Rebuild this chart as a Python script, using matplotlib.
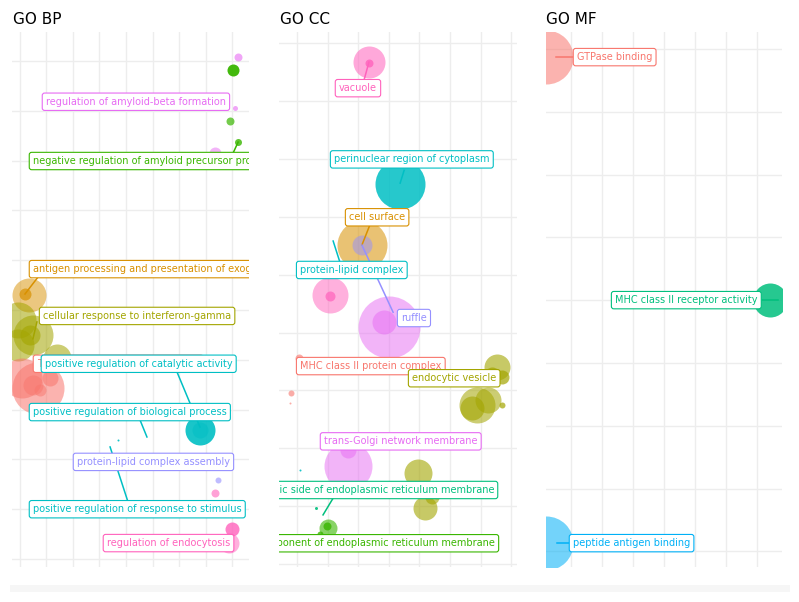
import matplotlib.pyplot as plt
from matplotlib.patches import Rectangle

# ggplot hue palette (10 groups)
SALMON = '#F8766D'
ORANGE = '#D89000'
OLIVE = '#A3A500'
GREEN = '#39B600'
TEAL = '#00BF7D'
CYAN = '#00BFC4'
BLUE = '#00B0F6'
LAVENDER = '#9590FF'
MAGENTA = '#E76BF3'
PINK = '#FF62BC'

# ---- GO BP ----
bp_x = [8.23, 8.04, 8.11, 7.92, 8.23, 7.36, 0.34, 0.19, -0.08, 0.49, -0.08, 1.40, 0.38,
        0.68, 0.08, 1.13, 0.49, 0.75, 6.79, 6.79, 3.70, 7.47, 7.36, 7.89, 8.00]
bp_y = [10.08, 9.82, 9.06, 8.80, 8.37, 8.15, 5.30, 5.32, 4.80, 4.50, 4.30, 4.04, 4.50,
        3.43, 3.63, 3.63, 3.49, 3.39, 2.59, 2.59, 2.39, 1.59, 1.33, 0.32, 0.60]
bp_r = [4, 6, 2.5, 4, 3.5, 6, 17, 6, 18, 20, 16, 14, 10,
        26, 20, 8, 10, 6, 15, 8, 1, 3, 4, 10, 7]
bp_c = [MAGENTA, GREEN, MAGENTA, GREEN, GREEN, MAGENTA, ORANGE, ORANGE, OLIVE, OLIVE, OLIVE, OLIVE, OLIVE,
        SALMON, SALMON, SALMON, SALMON, SALMON, CYAN, CYAN, CYAN, LAVENDER, PINK, PINK, PINK]
bp_a = [0.6, 0.95, 0.6, 0.7, 0.8, 0.5, 0.5, 0.7, 0.55, 0.55, 0.55, 0.55, 0.6,
        0.55, 0.55, 0.55, 0.5, 0.5, 0.9, 0.5, 0.9, 0.6, 0.6, 0.5, 0.8]

bp_labels = ['regulation of amyloid-beta formation',
             'negative regulation of amyloid precursor protein catabolic process',
             'antigen processing and presentation of exogenous peptide antigen via MHC class II',
             'cellular response to interferon-gamma',
             'T cell receptor signaling pathway',
             'positive regulation of catalytic activity',
             'positive regulation of biological process',
             'protein-lipid complex assembly',
             'positive regulation of response to stimulus',
             'regulation of endocytosis']
bp_lx = [0.98, 0.49, 0.49, 0.87, 0.64, 0.94, 0.49, 2.15, 0.49, 3.28]
bp_ly = [9.18, 7.99, 5.82, 4.88, 3.92, 3.92, 2.95, 1.95, 1.00, 0.32]
bp_lc = [MAGENTA, GREEN, ORANGE, OLIVE, SALMON, CYAN, CYAN, LAVENDER, CYAN, PINK]
bp_seg = [(8.23, 8.37, 8.04, 8.15, GREEN), (0.68, 5.66, 0.19, 5.32, ORANGE),
          (0.64, 4.76, 0.49, 4.42, OLIVE), (5.92, 3.76, 6.79, 2.65, CYAN),
          (4.53, 2.79, 4.79, 2.45, CYAN), (3.40, 2.25, 4.08, 1.14, CYAN)]

# ---- GO CC ----
cc_x = [2.35, 2.35, 3.37, 2.12, 2.12, 1.08, 1.08, 3.01, 2.84, 0.07, -0.20, -0.23,
        6.54, 6.70, 6.37, 5.88, 5.72, 6.24, 6.70, 3.95, 4.58, 4.18, 4.41,
        1.67, 1.67, 0.10, 0.62, 1.01, 0.98, 0.75]
cc_y = [8.67, 8.65, 6.56, 5.51, 5.51, 4.65, 4.63, 4.09, 4.18, 3.56, 2.95, 2.78,
        3.40, 3.23, 3.26, 2.75, 2.69, 2.83, 2.75, 1.57, 1.23, 0.97, 1.16,
        1.69, 1.97, 1.62, 0.97, 0.62, 0.66, 0.52]
cc_r = [16, 4, 25, 25, 10, 18, 5, 31, 12, 4, 3, 1,
        13, 7, 8, 18, 12, 13, 3, 14, 6, 12, 7,
        24, 8, 1, 1.5, 9, 4, 3]
cc_c = [PINK, PINK, CYAN, ORANGE, LAVENDER, PINK, PINK, MAGENTA, MAGENTA, SALMON, SALMON, SALMON,
        OLIVE, OLIVE, OLIVE, OLIVE, OLIVE, OLIVE, OLIVE, OLIVE, OLIVE, OLIVE, OLIVE,
        MAGENTA, MAGENTA, CYAN, TEAL, GREEN, GREEN, GREEN]
cc_a = [0.55, 0.8, 0.85, 0.55, 0.5, 0.5, 0.7, 0.5, 0.5, 0.6, 0.6, 0.6,
        0.6, 0.7, 0.7, 0.55, 0.6, 0.55, 0.7, 0.6, 0.6, 0.6, 0.6,
        0.5, 0.5, 0.9, 0.9, 0.6, 0.8, 0.8]

cc_labels = ['vacuole', 'perinuclear region of cytoplasm', 'cell surface',
             'protein-lipid complex', 'ruffle', 'MHC class II protein complex',
             'endocytic vesicle', 'trans-Golgi network membrane',
             'cytoplasmic side of endoplasmic reticulum membrane',
             'integral component of endoplasmic reticulum membrane']
cc_lx = [1.37, 1.21, 1.70, 0.10, 3.40, 0.10, 3.76, 0.88, 6.44, 6.47]
cc_ly = [8.22, 6.99, 5.99, 5.08, 4.25, 3.42, 3.21, 2.12, 1.28, 0.36]
cc_ha = ['left'] * 8 + ['right', 'right']
cc_lc = [PINK, CYAN, ORANGE, CYAN, LAVENDER, SALMON, OLIVE, MAGENTA, TEAL, GREEN]
cc_seg = [(2.35, 8.67, 2.19, 8.36, PINK), (3.50, 6.80, 3.37, 6.58, CYAN),
          (2.39, 5.87, 2.12, 5.51, ORANGE), (1.18, 5.58, 1.41, 5.20, CYAN),
          (2.12, 5.51, 3.14, 4.35, LAVENDER), (1.18, 1.14, 0.85, 0.85, TEAL)]

# ---- GO MF ----
mf_x = [-0.81, 6.42, -0.81]
mf_y = [7.87, 4.00, 0.13]
mf_r = [27, 17, 27]
mf_c = [SALMON, TEAL, BLUE]
mf_a = [0.55, 0.85, 0.55]

mf_labels = ['GTPase binding', 'MHC class II receptor activity', 'peptide antigen binding']
mf_lx = [0.19, 1.42, 0.06]
mf_ly = [7.87, 4.00, 0.13]
mf_lc = [SALMON, TEAL, BLUE]
mf_seg = [(-0.48, 7.87, 0.06, 7.87, SALMON), (6.00, 4.00, 6.68, 4.00, TEAL),
          (-0.45, 0.13, -0.06, 0.13, BLUE)]

W, H = 799, 602
fig = plt.figure(figsize=(W / 100, H / 100), dpi=100)


def panel(rect_px, xlim, ylim, nx, ny, xs, ys, rs, cs, als, segs, labs, lxs, lys, lcs, has=None):
	l, r, t, b = rect_px
	ax = fig.add_axes([l / W, 1 - b / H, (r - l) / W, (b - t) / H])
	ax.set_xlim(*xlim)
	ax.set_ylim(*ylim)
	ax.set_xticks(range(nx))
	ax.set_yticks(range(ny))
	ax.tick_params(length=0, labelbottom=False, labelleft=False)
	ax.grid(True, color='#ededed', lw=1)
	ax.set_axisbelow(True)
	for s in ax.spines.values():
		s.set_visible(False)
	for x, y, rr, c, a in zip(xs, ys, rs, cs, als):
		ax.scatter(x, y, s=(2 * rr * 0.72) ** 2, color=c, alpha=a, lw=0, zorder=2)
	for x0, y0, x1, y1, c in segs:
		ax.plot([x0, x1], [y0, y1], color=c, lw=1.1, zorder=3)
	if has is None:
		has = ['left'] * len(labs)
	for i, (txt, x, y, c, ha) in enumerate(zip(labs, lxs, lys, lcs, has)):
		ax.text(x, y, txt, ha=ha, va='center', fontsize=7.0, color=c, zorder=4 + i,
				clip_on=True,
				bbox=dict(boxstyle='round,pad=0.38,rounding_size=0.25', fc='white', ec=c, lw=0.8))
	return ax


panel((12, 249, 32, 567), (-0.30, 8.64), (-0.16, 10.58), 9, 11,
	  bp_x, bp_y, bp_r, bp_c, bp_a, bp_seg, bp_labels, bp_lx, bp_ly, bp_lc)
panel((279, 517, 32, 567), (-0.59, 7.19), (-0.05, 9.19), 8, 10,
	  cc_x, cc_y, cc_r, cc_c, cc_a, cc_seg, cc_labels, cc_lx, cc_ly, cc_lc, cc_ha)
panel((546, 782, 32, 567), (-0.81, 6.81), (-0.25, 8.27), 7, 9,
	  mf_x, mf_y, mf_r, mf_c, mf_a, mf_seg, mf_labels, mf_lx, mf_ly, mf_lc)

for txt, px in [('GO BP', 13), ('GO CC', 280), ('GO MF', 546)]:
	fig.text(px / W, 1 - 19 / H, txt, fontsize=11, ha='left', va='center', color='black')

# faint strip at the bottom edge
fig.patches.append(Rectangle((10 / W, 1 - 592 / H), 780 / W, 7 / H,
							 transform=fig.transFigure, color='#f6f6f6', lw=0))

fig.savefig('out.png', dpi=100)
